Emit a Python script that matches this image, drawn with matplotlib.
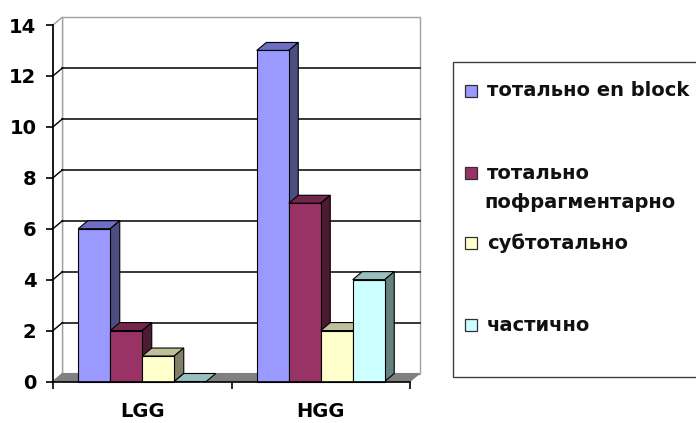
import matplotlib
matplotlib.use("Agg")
import matplotlib.pyplot as plt
from matplotlib.patches import Polygon, Rectangle
import numpy as np

# Data
categories = ["LGG", "HGG"]
series_names = ["тотально en block", "тотально\nпофрагментарно", "субтотально", "частично"]
values = {
    "тотально en block": [6, 13],
    "тотально\nпофрагментарно": [2, 7],
    "субтотально": [1, 2],
    "частично": [0, 4],
}
yticks = [0, 2, 4, 6, 8, 10, 12, 14]

front_colors = ["#9999FF", "#993366", "#FFFFCC", "#CCFFFF"]
top_colors = ["#6E6EC4", "#73264D", "#BFBF99", "#99BFBF"]
side_colors = ["#4D4D80", "#4D1A33", "#80806A", "#668080"]

plt.rcParams["font.family"] = ["DejaVu Sans"]
plt.rcParams["font.weight"] = "bold"

W, H = 696, 423
fig = plt.figure(figsize=(W / 100, H / 100), dpi=100)
fig.patch.set_facecolor("white")

# front plane of the plot: x 53..410 px, y 381.5..25 px
ax = fig.add_axes([53 / W, (H - 381.5) / H, 357 / W, 356.5 / H])
ax.set_xlim(-0.5, 1.5)
ax.set_ylim(0, 14)
ax.patch.set_visible(False)

px_x = 2.0 / 357          # data units per pixel horizontally
px_y = 14.0 / 356.5       # data units per pixel vertically
dx = 9.5 * px_x           # depth offset
dy = 8.0 * px_y

x0, x1 = -0.5, 1.5
ymax = 14

# back wall
ax.add_patch(Rectangle((x0 + dx, dy), x1 - x0, ymax, facecolor="white",
                       edgecolor="#A0A0A0", lw=1.0, zorder=1, clip_on=False))
# left wall
ax.add_patch(Polygon([(x0, 0), (x0 + dx, dy), (x0 + dx, ymax + dy), (x0, ymax)],
                     closed=True, facecolor="white", edgecolor="#A0A0A0", lw=1.0,
                     zorder=1, clip_on=False))
# gridlines on the back and left walls
for v in yticks[1:-1]:
    ax.plot([x0 + dx, x1 + dx], [v + dy, v + dy], color="black", lw=1.1, zorder=2,
            clip_on=False)
    ax.plot([x0, x0 + dx], [v, v + dy], color="black", lw=1.0, zorder=2, clip_on=False)
# floor
ax.add_patch(Polygon([(x0, 0), (x1, 0), (x1 + dx, dy), (x0 + dx, dy)], closed=True,
                     facecolor="#808080", edgecolor="#808080", lw=0.8, zorder=2,
                     clip_on=False))

# 3D bars
n = len(series_names)
w = 32 * px_x
xpos = np.arange(len(categories))
for j, xc in enumerate(xpos):
    for i, name in enumerate(series_names):
        h = values[name][j]
        left = xc - n * w / 2 + i * w
        z = 3 + i
        top = Polygon([(left, h), (left + w, h), (left + w + dx, h + dy), (left + dx, h + dy)],
                      closed=True, facecolor=top_colors[i], edgecolor="black", lw=0.8,
                      zorder=z, clip_on=False)
        ax.add_patch(top)
        if h > 0:
            side = Polygon([(left + w, 0), (left + w + dx, dy), (left + w + dx, h + dy),
                            (left + w, h)], closed=True, facecolor=side_colors[i],
                           edgecolor="black", lw=0.8, zorder=z, clip_on=False)
            ax.add_patch(side)
            ax.add_patch(Rectangle((left, 0), w, h, facecolor=front_colors[i],
                                   edgecolor="black", lw=0.8, zorder=z + 0.5,
                                   clip_on=False))

# axes lines
for s in ["top", "right"]:
    ax.spines[s].set_visible(False)
for s in ["left", "bottom"]:
    ax.spines[s].set_color("black")
    ax.spines[s].set_linewidth(1.2)
    ax.spines[s].set_zorder(20)

ax.set_yticks(yticks)
ax.set_yticklabels([str(v) for v in yticks], fontsize=14, fontweight="bold")
ax.tick_params(axis="y", direction="out", length=5, width=1.2, pad=7, colors="black")

ax.set_xticks(xpos)
ax.set_xticklabels(categories, fontsize=14, fontweight="bold")
ax.set_xticks([-0.5, 0.5, 1.5], minor=True)
ax.tick_params(axis="x", which="major", length=0, pad=15)
ax.tick_params(axis="x", which="minor", direction="out", length=5, width=1.2)

# legend box
def fx(p):
    return p / W

def fy(p):
    return (H - p) / H

fig.add_artist(Rectangle((fx(453), fy(377)), fx(260), (377 - 62) / H,
                         transform=fig.transFigure, facecolor="white",
                         edgecolor="#404040", lw=1.0))
entry_y = [91, 173, 243, 325]
for i, name in enumerate(series_names):
    cy = entry_y[i]
    fig.add_artist(Rectangle((fx(465), fy(cy + 6)), fx(12), 12 / H,
                             transform=fig.transFigure, facecolor=front_colors[i],
                             edgecolor="#303030", lw=0.9))
    lines = name.split("\n")
    fig.text(fx(487), fy(cy), lines[0], fontsize=14, fontweight="bold",
             va="center", ha="left", color="#111111")
    if len(lines) > 1:
        fig.text(fx(484), fy(cy + 29), lines[1], fontsize=14, fontweight="bold",
                 va="center", ha="left", color="#111111")

fig.savefig("out.png", dpi=100)
